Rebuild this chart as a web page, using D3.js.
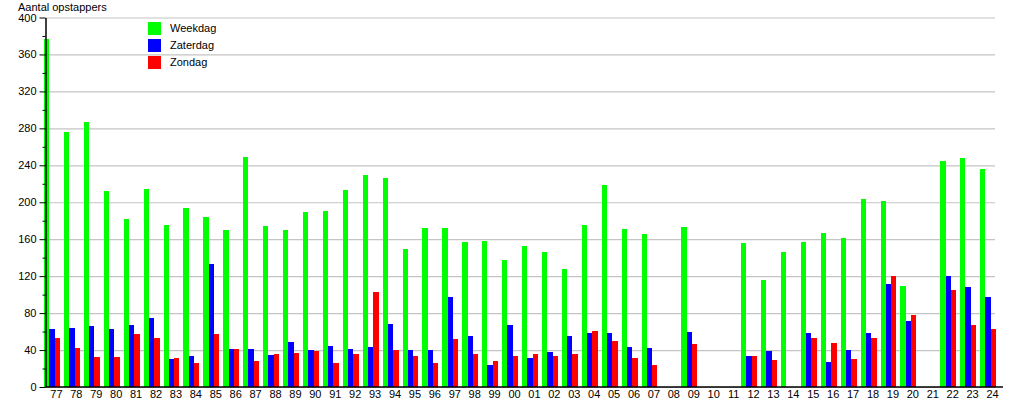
<!DOCTYPE html>
<html>
<head>
<meta charset="utf-8">
<script src="https://cdn.jsdelivr.net/npm/d3@7"></script>
<style>
  html, body { margin: 0; padding: 0; background: #fff; }
  svg { display: block; font-family: "Liberation Sans", Arial, sans-serif; }
</style>
</head>
<body>
<svg id="chart" width="1015" height="400"></svg>
<script>
const categories = ["77","78","79","80","81","82","83","84","85","86","87","88","89","90","91","92","93","94","95","96","97","98","99","00","01","02","03","04","05","06","07","08","09","10","11","12","13","14","15","16","17","18","19","20","21","22","23","24"];
const weekdag  = [377,276,287,212,182,214,175,194,184,170,249,174,170,189,191,213,229,226,149,172,172,157,158,137,153,146,128,175,219,171,166,null,173,null,null,156,116,146,157,167,161,203,201,109,null,245,248,236];
const zaterdag = [63,64,66,63,67,75,30,34,133,41,41,35,49,40,44,41,43,68,40,40,97,55,24,67,31,38,55,58,58,43,42,null,60,null,null,34,39,null,58,27,40,58,111,71,null,120,108,97];
const zondag   = [53,42,32,32,57,53,31,26,57,41,28,36,37,39,26,36,103,40,34,26,52,36,28,34,36,34,36,61,50,31,24,null,47,null,null,34,29,null,53,48,30,53,120,78,null,105,67,63];
const seriesNames = ["Weekdag","Zaterdag","Zondag"];
const seriesColors = ["#00ff00","#0000ff","#ff0000"];
const yTicks = [0,40,80,120,160,200,240,280,320,360,400];
const yMinorTicks = [20,60,100,140,180,220,260,300,340,380];
const yTitle = "Aantal opstappers";

const svg = d3.select("#chart");
const series = [weekdag, zaterdag, zondag];

const axisX = 45.5, y0 = 387, yTop = 17.5, gridRight = 995;
const y = d3.scaleLinear().domain([0, 400]).range([y0, yTop]);
const x = d3.scaleBand().domain(categories).range([44, 1000]).padding(0);
const groupW = x.bandwidth() * 0.8;
const sub = d3.scaleBand().domain(seriesNames).range([0, groupW]).padding(0);

// gridlines
svg.append("g")
  .attr("transform", `translate(${axisX},0)`)
  .call(d3.axisLeft(y).tickValues(yTicks).tickSize(-(gridRight - axisX)).tickFormat(""))
  .call(g => g.select(".domain").remove())
  .call(g => g.selectAll("line").attr("stroke", "#c4c4c4").attr("stroke-width", 1.2));

// bars
series.forEach((vals, si) => {
  svg.append("g").selectAll("rect")
    .data(categories.map((c, i) => ({c, v: vals[i]})).filter(d => d.v != null))
    .join("rect")
    .attr("x", d => x(d.c) + sub(seriesNames[si]))
    .attr("width", sub.bandwidth())
    .attr("y", d => y(d.v))
    .attr("height", d => y(0) - y(d.v))
    .attr("fill", seriesColors[si])
    .attr("shape-rendering", "crispEdges");
});

// minor ticks
svg.append("g")
  .attr("transform", `translate(${axisX},0)`)
  .call(d3.axisLeft(y).tickValues(yMinorTicks).tickSize(3).tickFormat(""))
  .call(g => g.select(".domain").remove())
  .call(g => g.selectAll("line").attr("stroke", "#000"));

// major y axis
svg.append("g")
  .attr("transform", `translate(${axisX},0)`)
  .call(d3.axisLeft(y).tickValues(yTicks).tickSize(6).tickPadding(3).tickSizeOuter(0))
  .call(g => g.select(".domain").attr("stroke", "#000").attr("stroke-width", 1.5))
  .call(g => g.selectAll("line").attr("stroke", "#000"))
  .call(g => g.selectAll("text").attr("font-size", "11px").attr("fill", "#000")
      .attr("font-family", "'Liberation Sans', Arial, sans-serif"));

// x axis
svg.append("g")
  .attr("transform", `translate(0,${y0})`)
  .call(d3.axisBottom(x).tickSize(0).tickPadding(3).tickSizeOuter(0))
  .call(g => g.select(".domain").attr("d", `M${axisX},0H${gridRight + 8}`).attr("stroke", "#000").attr("stroke-width", 1.5))
  .call(g => g.selectAll("text").attr("font-size", "11px").attr("fill", "#000").attr("dx", 2.5)
      .attr("font-family", "'Liberation Sans', Arial, sans-serif"));

// title
svg.append("text")
  .attr("x", 18).attr("y", 10.5)
  .attr("font-size", "11px")
  .text(yTitle);

// legend
const legend = svg.append("g");
seriesNames.forEach((n, i) => {
  legend.append("rect")
    .attr("x", 148).attr("y", 22 + i * 17)
    .attr("width", 13).attr("height", 13)
    .attr("fill", seriesColors[i]);
  legend.append("text")
    .attr("x", 170).attr("y", 28.5 + i * 17)
    .attr("dy", "0.35em")
    .attr("font-size", "11px")
    .text(n);
});
</script>
</body>
</html>
